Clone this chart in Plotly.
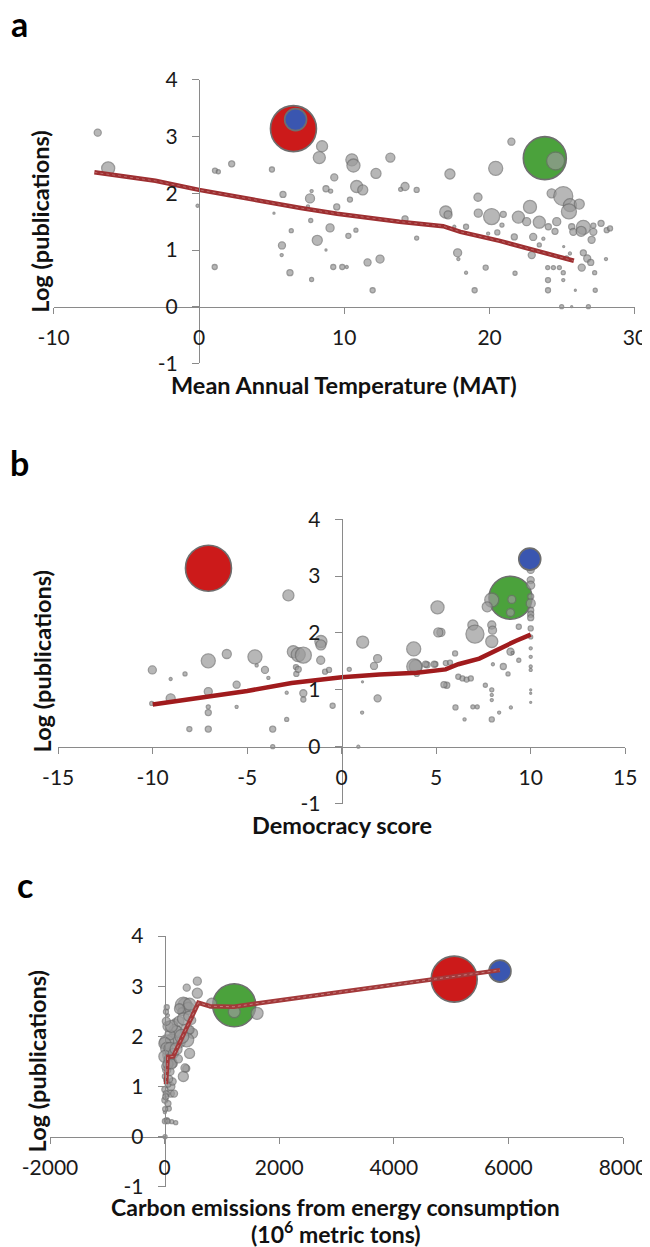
import plotly.graph_objects as go

# ---------------- DATA ----------------
# Highlighted countries: China (red), India (green), USA (blue)
hl_names = ["China", "India", "USA"]
hl_colors = ["#cc1a1a", "#4ba23c", "#3a56b0"]
hl_mat = [6.5, 23.8, 6.65]
hl_dem = [-7.05, 8.93, 9.95]
hl_carbon = [5054, 1215, 5853]
hl_logpub = [3.14, 2.62, 3.30]
hl_bubble = [46, 43, 22]

# Tick labels
a_ticks = [-10, 0, 10, 20, 30]
b_ticks = [-15, -10, -5, 0, 5, 10, 15]
c_ticks = [-2000, 0, 2000, 4000, 6000, 8000]
y_ticks = [-1, 0, 1, 2, 3, 4]

# Panel a: Mean annual temperature vs log(publications)
a_x = [-6.97, -6.25, -0.1, 1.1, 1.33, 2.25, 1.08, 5.02, 5.78, 5.16, 6.35, 5.71, 5.69, 6.26, 7.75,
       8.47, 8.28, 7.64, 7.75, 7.5, 7.69, 8.14, 8.74, 9.02, 9.31, 8.74, 9.06, 9.48, 9.24, 9.86,
       10.17, 10.28, 10.39, 10.8, 11.6, 11.95, 10.52, 10.63, 10.85, 11.27, 12.18, 13.17, 12.46,
       14.18, 13.88, 14.98, 14.18, 14.98, 17.27, 16.98, 17.14, 17.8, 17.85, 17.57, 18.38, 18.38,
       18.97, 19.2, 19.22, 19.73, 20.14, 20.42, 21.5, 20.85, 20.94, 20.53, 21.7, 21.75, 21.98,
       22.55, 22.78, 23.0, 22.9, 23.42, 23.42, 23.7, 24.0, 24.39, 24.8, 24.02, 24.02, 24.27,
       25.07, 25.53, 25.46, 26.17, 24.62, 24.04, 24.5, 24.54, 25.07, 25.07, 24.96, 25.65, 26.8,
       25.9, 27.27, 25.65, 25.76, 26.45, 26.3, 27.14, 27.14, 27.02, 27.67, 28.06, 28.29, 28.01,
       26.45, 26.72, 26.96, 26.34, 27.23, 25.53, 25.3, 25.1, 19.9]
a_y = [3.07, 2.44, 1.78, 2.40, 2.38, 2.52, 0.70, 2.42, 1.98, 1.65, 1.34, 1.08, 0.91, 0.60, 0.48,
       2.83, 2.63, 1.91, 2.04, 1.77, 1.52, 1.17, 1.00, 1.39, 2.28, 2.08, 2.04, 1.76, 0.70, 0.70,
       0.70, 1.25, 1.89, 1.35, 0.78, 0.29, 2.59, 2.49, 2.12, 2.06, 2.35, 2.63, 0.84,
       2.12, 2.07, 2.06, 1.55, 1.21, 2.34, 1.67, 1.62, 0.95, 0.84, 1.41, 0.60, 1.41,
       0.29, 1.93, 1.65, 0.69, 1.59, 2.44, 2.91, 1.44, 1.63, 1.31, 1.23, 0.59, 1.58,
       1.50, 1.76, 1.23, 0.91, 1.49, 1.09, 1.20, 0.69, 0.69, 0.69, 0.47, 0.29, 2.00,
       1.95, 1.79, 1.68, 1.81, 1.50, 1.41, 1.33, 2.57, 0.60, 0.47, 0.00, 0.00, 0.00,
       0.29, 0.29, 1.41, 1.32, 1.40, 1.33, 1.43, 1.32, 1.18, 1.47, 1.35, 1.38, 0.84,
       0.95, 0.85, 0.78, 0.69, 0.60, 0.94, 0.86, 1.06, 1.29]
a_bubble = [7, 13, 3, 5, 4, 6, 5, 5, 6, 2, 4, 7, 3, 6, 4,
            11, 12, 9, 3, 3, 4, 10, 2, 8, 7, 6, 4, 6, 5, 5,
            3, 5, 5, 4, 7, 5, 12, 13, 12, 10, 10, 9, 8,
            8, 4, 5, 6, 4, 10, 12, 8, 8, 3, 3, 3, 5,
            5, 8, 8, 5, 16, 14, 7, 4, 6, 5, 6, 4, 12,
            8, 13, 7, 7, 12, 4, 3, 4, 4, 4, 5, 5, 9,
            19, 13, 15, 10, 8, 6, 6, 18, 4, 3, 4, 2, 4,
            2, 4, 6, 7, 14, 10, 5, 7, 7, 6, 5, 5, 3,
            6, 7, 6, 7, 4, 3, 4, 2, 3]
a_trend_x = [-7.2, -3.0, 0.0, 3.0, 5.6, 7.0, 9.5, 12.5, 13.8, 16.8, 18.0, 20.7, 23.0, 25.8]
a_trend_y = [2.37, 2.22, 2.06, 1.92, 1.80, 1.74, 1.64, 1.54, 1.50, 1.42, 1.32, 1.16, 1.00, 0.81]

# Panel b: Democracy score vs log(publications)
b_x = [-2.82, 5.07, 7.94, 7.7, 9.0, 8.93, 10, 10, 10, 10, 10, 10, 10, 10, 10, 10, 10, 10, 10, 10,
       10, 10, 10, 9.37, 9.37, 8.93, 6.94, 7.05, 7.94, 7.98, 7.94, 5.25, 3.81, 3.92, 3.97, 4.52,
       4.96, 5.51, 5.73, 6.0, 6.17, 6.39, 6.61, 6.83, 5.56, 6.02, 6.5, 6.94, 7.17, 7.6, 7.94,
       7.94, 7.94, 7.94, 8.33, 8.55, 8.8, 8.95, 8.0, 9.04,
       -10.02, -9.05, -8.29, -7.06, -6.08, -4.59, -4.5, -4.06, -3.88, -2.56, -2.3, -2.42, -2.4,
       -5.56, -5.56, -7.06, -7.06, -7.06, -7.06, -8.06, -9.05, -10.05, -3.65, -3.65, -2.91,
       -2.91, -2.03, -1.1, -1.1, -1.11, -0.88, -0.67, -2.03, -2.03, -0.48, -2.3, 1.11, 0.4, 1.1,
       1.08, 0.88, 1.9, 1.71, 1.9, 3.84, 4.44, 4.9, 5.11, 5.41]
b_y = [2.66, 2.45, 2.58, 2.46, 2.59, 2.36, 3.11, 2.93, 2.84, 2.64, 2.52, 2.40, 2.33, 2.27, 2.08,
       1.93, 1.73, 1.58, 1.41, 1.35, 1.00, 0.94, 0.78, 2.11, 1.52, 1.67, 2.14, 1.98, 2.14, 2.05,
       1.85, 2.01, 1.72, 1.41, 1.28, 1.44, 1.45, 1.47, 1.48, 1.64, 1.23, 1.20, 1.18, 1.20, 1.08,
       0.69, 0.48, 0.70, 0.70, 1.08, 1.00, 0.91, 0.82, 0.48, 0.60, 1.41, 1.28, 0.69, 1.45, 1.65,
       1.35, 1.19, 1.28, 1.51, 1.63, 1.58, 1.43, 1.35, 1.21, 1.67, 1.62, 1.40, 1.28,
       1.09, 0.70, 0.97, 0.70, 0.60, 0.31, 0.31, 0.85, 0.76, 0.31, 0.00, 0.48,
       0.95, 1.61, 1.85, 1.79, 1.52, 1.32, 1.35, 0.94, 0.83, 0.72, 1.36, 1.84, 1.36, 1.14,
       0.60, 0.00, 1.55, 1.42, 0.85, 1.41, 1.45, 1.45, 2.01, 1.09]
b_bubble = [11, 13, 14, 10, 8, 8, 7, 7, 8, 6, 9, 6, 6, 6, 5, 4, 3, 3, 3, 3,
            2, 2, 2, 5, 4, 7, 10, 18, 8, 8, 12, 8, 14, 13, 5, 6,
            5, 5, 5, 5, 5, 5, 5, 5, 6, 5, 3, 4, 4, 4, 4,
            3, 3, 5, 3, 6, 4, 3, 3, 3,
            8, 3, 4, 14, 9, 14, 3, 7, 3, 12, 14, 5, 5,
            7, 3, 8, 4, 6, 6, 5, 9, 4, 6, 4, 4,
            3, 16, 12, 10, 8, 5, 5, 7, 5, 5, 6, 12, 4, 2,
            3, 3, 8, 7, 7, 15, 6, 6, 9, 6]
b_trend_x = [-10.0, -7.05, -5.0, -2.65, 0.0, 2.0, 3.97, 5.5, 6.17, 7.28, 8.38, 9.2, 10.0]
b_trend_y = [0.74, 0.88, 0.98, 1.12, 1.22, 1.27, 1.30, 1.36, 1.45, 1.55, 1.74, 1.86, 1.97]

# Panel c: Carbon emissions vs log(publications)
c_x = [1215, 1613, 822, 571, 571, 386, 356, 327, 414, 301, 436, 473, 488, 436, 378, 327, 255,
       182, 211, 123, 386, 386, 444, 37, 73, 109, 109, 73, 37, 124, 8, 37, 24, 58, 181, 94, 5,
       37, 94, 5, 94, 152, 152, 37, 94, 356, 5, 30, 5, 30, 5, 58, 165, 194, 5, 52, 5, 20, 60, 140,
       60, 120, 250, 300, 200, 60, 120, 30, 260, 80, 20, 10, 240, 330, 420]
c_y = [2.49, 2.46, 2.66, 3.10, 2.86, 2.97, 2.62, 2.62, 2.56, 2.49, 2.64, 2.32, 2.06, 1.66, 1.36,
       1.20, 1.89, 2.12, 2.09, 1.93, 2.13, 1.93, 2.13, 1.89, 1.63, 1.00, 0.86, 0.56, 0.33, 0.30,
       0.00, 2.58, 2.49, 2.42, 2.29, 2.03, 1.86, 1.76, 1.76, 1.60, 1.53, 1.66, 1.46, 1.33, 1.30,
       1.37, 1.20, 1.13, 0.94, 0.86, 0.73, 0.66, 0.86, 0.28, 0.31, 0.31, 0.49, 1.40, 1.05, 1.10,
       2.20, 2.20, 2.30, 2.00, 1.75, 1.45, 1.45, 2.30, 2.55, 1.15, 0.80, 0.55, 1.55, 2.35, 2.40]
c_bubble = [12, 12, 10, 8, 10, 7, 14, 16, 12, 8, 12, 8, 10, 10, 7, 10, 12,
            12, 12, 12, 12, 14, 8, 14, 12, 8, 7, 5, 5, 4, 4, 5, 5, 3, 6, 10, 12,
            12, 12, 12, 12, 10, 8, 8, 8, 8, 5, 5, 6, 6, 6, 6, 7, 4, 5, 5, 3, 8, 6, 7,
            10, 12, 10, 14, 12, 10, 10, 8, 10, 7, 6, 5, 8, 12, 10]
c_trend_x = [24, 54, 150, 590, 790, 1210, 1640, 5054, 5853]
c_trend_y = [1.05, 1.59, 1.60, 2.67, 2.60, 2.59, 2.66, 3.19, 3.32]

# ---------------- FIGURE ----------------
OFF = 8                      # page body margin of the html page
W, H = 650 - OFF, 1247 - OFF
FONT = "Lato"
GREY = "#9a9a9a"
EDGE = "#6e6e6e"
AXC = "#8a8a8a"
TXT = "#1a1a1a"


def fx(px):
    return (px - OFF) / W


def fy(py):
    return 1 - (py - OFF) / H


panels = [
    dict(x=a_x, y=a_y, d=a_bubble, hx=hl_mat, tx=a_trend_x, ty=a_trend_y,
         xr=[-10, 30], xt=a_ticks, lc="#9e2f31", hi="#c47a7a",
         px=(53.7, 634.9), py=(363.4, 79.9), x0=199.0, y0=306.7),
    dict(x=b_x, y=b_y, d=b_bubble, hx=hl_dem, tx=b_trend_x, ty=b_trend_y,
         xr=[-15, 15], xt=b_ticks, lc="#a01b1d", hi=None,
         px=(58.2, 625.2), py=(803.5, 519.3), x0=341.7, y0=746.7),
    dict(x=c_x, y=c_y, d=c_bubble, hx=hl_carbon, tx=c_trend_x, ty=c_trend_y,
         xr=[-2000, 8000], xt=c_ticks, lc="#a3393a", hi="#d49a9a",
         px=(50.0, 623.0), py=(1186.9, 936.0), x0=164.6, y0=1136.7),
]

fig = go.Figure()
layout = dict(width=W, height=H, margin=dict(l=0, r=0, t=0, b=0, pad=0, autoexpand=False),
              paper_bgcolor="white", plot_bgcolor="rgba(0,0,0,0)", showlegend=False,
              font=dict(family=FONT, color=TXT, size=21))

for i, p in enumerate(panels, start=1):
    xa = "x" if i == 1 else f"x{i}"
    ya = "y" if i == 1 else f"y{i}"
    for k in [0, 1]:
        fig.add_trace(go.Scatter(x=[p["hx"][k]], y=[hl_logpub[k]], mode="markers", xaxis=xa, yaxis=ya,
                                 marker=dict(size=hl_bubble[k], color=hl_colors[k],
                                             line=dict(color=EDGE, width=1.6)),
                                 name=hl_names[k], cliponaxis=False))
    fig.add_trace(go.Scatter(x=p["x"], y=p["y"], mode="markers", xaxis=xa, yaxis=ya,
                             marker=dict(size=p["d"], color=GREY, line=dict(color=EDGE, width=1.3)),
                             name="countries", cliponaxis=False))
    fig.add_trace(go.Scatter(x=[p["hx"][2]], y=[hl_logpub[2]], mode="markers", xaxis=xa, yaxis=ya,
                             marker=dict(size=hl_bubble[2], color=hl_colors[2],
                                         line=dict(color=EDGE, width=1.6)),
                             name=hl_names[2], cliponaxis=False))
    fig.add_trace(go.Scatter(x=p["tx"], y=p["ty"], mode="lines", xaxis=xa, yaxis=ya,
                             line=dict(color=p["lc"], width=4.5), name="trend", cliponaxis=False))
    if p["hi"]:
        fig.add_trace(go.Scatter(x=p["tx"], y=p["ty"], mode="lines", xaxis=xa, yaxis=ya,
                                 line=dict(color=p["hi"], width=1, dash="dot"), name="trend",
                                 cliponaxis=False, opacity=0.7))

    xkey = "xaxis" if i == 1 else f"xaxis{i}"
    ykey = "yaxis" if i == 1 else f"yaxis{i}"
    layout[xkey] = dict(domain=[fx(p["px"][0]), fx(p["px"][1])], range=p["xr"], anchor="free",
                        position=fy(p["y0"]),
                        showgrid=False, zeroline=False, showline=True, linecolor=AXC, linewidth=1,
                        ticks="outside", ticklen=6, tickcolor=AXC,
                        tickvals=p["xt"], ticktext=[str(v) for v in p["xt"]],
                        ticklabelstandoff=6, tickfont=dict(size=21, family=FONT, color=TXT))
    layout[ykey] = dict(domain=[fy(p["py"][0]), fy(p["py"][1])], range=[-1, 4], anchor="free",
                        position=fx(p["x0"]),
                        showgrid=False, zeroline=False, showline=True, linecolor=AXC, linewidth=1,
                        ticks="outside", ticklen=7, tickcolor=AXC,
                        tickvals=y_ticks, ticktext=[str(v) for v in y_ticks],
                        ticklabelstandoff=10, tickfont=dict(size=21, family=FONT, color=TXT))

fig.update_layout(**layout)

ann = []
bold = dict(family=FONT, size=23.5, color="#111")
bold_c = dict(family=FONT, size=23, color="#111")


def add_text(text, px, py, font, angle=0):
    ann.append(dict(text=text, x=fx(px), y=fy(py), xref="paper", yref="paper", showarrow=False,
                    xanchor="center", yanchor="middle", textangle=angle, font=font, align="center",
                    borderpad=0))


for lab, (lx, ly) in zip(["a", "b", "c"], [(20, 23), (20, 462), (25, 884)]):
    add_text(f"<b>{lab}</b>", lx, ly, dict(family=FONT, size=34, color="#000"))
for (cx, cy) in [(40, 221.7), (42, 661.4), (37, 1061.4)]:
    add_text("<b>Log (publications)</b>", cx, cy, bold, angle=-90)
add_text("<b>Mean Annual Temperature (MAT)</b>", 344, 385, bold)
add_text("<b>Democracy score</b>", 342, 825, bold)
add_text("<b>Carbon emissions from energy consumption</b>", 336, 1207, bold_c)
add_text("<b>(10<sup>6</sup> metric tons)</b>", 336, 1232, bold_c)
fig.update_layout(annotations=ann)

fig.write_html("out.html")
